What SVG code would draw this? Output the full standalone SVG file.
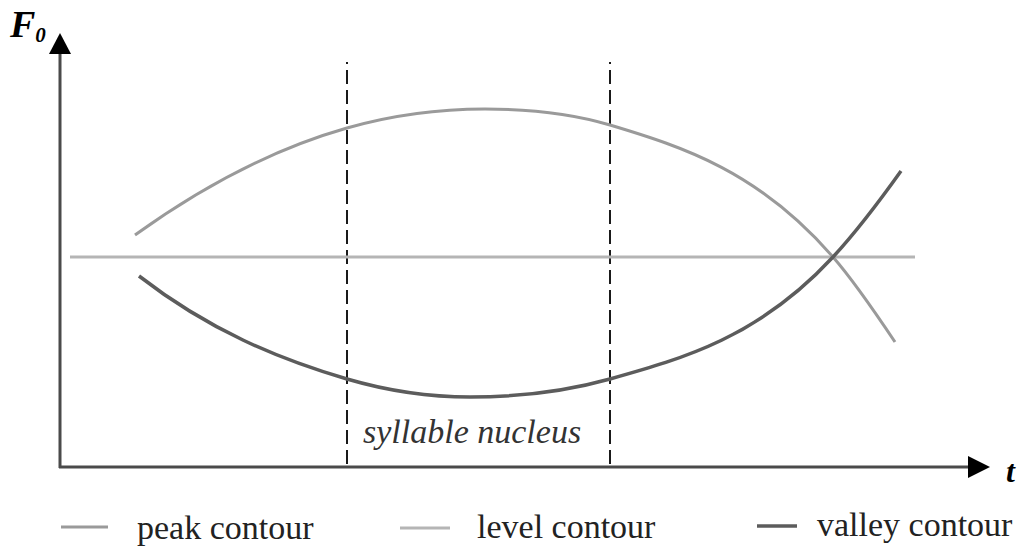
<svg xmlns="http://www.w3.org/2000/svg" width="1022" height="549" viewBox="0 0 1022 549">
<style>
.axis{stroke:#4a4a4a;stroke-width:3;fill:none}
.head{fill:#000}
.dash{stroke:#1a1a1a;stroke-width:2;fill:none;stroke-dasharray:14 6}
.peak{stroke:#9a9a9a;stroke-width:3;fill:none}
.level{stroke:#b5b5b5;stroke-width:3;fill:none}
.valley{stroke:#5c5c5c;stroke-width:3.5;fill:none}
.serif{font-family:'Liberation Serif','Times New Roman','DejaVu Serif',serif}
.leg{font-size:34px;fill:#222}
.lab{font-style:italic;font-weight:bold;fill:#000}
</style>
<rect width="1022" height="549" fill="#fff"/>
<g id="axes">
<line class="axis" x1="60" y1="468" x2="60" y2="52"/>
<line class="axis" x1="59" y1="467" x2="970" y2="467"/>
<polygon class="head" points="60,33 71,54 49,54"/>
<polygon class="head" points="990,467 968,456 968,478"/>
<text class="serif lab" x="10" y="37" font-size="38">F<tspan font-size="21" dy="5">0</tspan></text>
<text class="serif lab" x="1006" y="482" font-size="32">t</text>
</g>
<g id="nucleus">
<line class="dash" x1="347" y1="62" x2="347" y2="467" stroke-dashoffset="12"/>
<line class="dash" x1="610" y1="62" x2="610" y2="467" stroke-dashoffset="12"/>
<text class="serif" x="363" y="443" font-style="italic" font-size="34" fill="#333">syllable nucleus</text>
</g>
<g id="contours">
<line class="level" x1="70" y1="257" x2="915" y2="257"/>
<path class="peak" d="M135,235 C205.7,184.1 276.3,148.1 347,128 C393,114.9 439,109 485,109 C526.7,109 568.3,112.5 610,125 C684.3,147.3 758.7,171.6 833,257 C853.7,280.8 874.3,311 895,342"/>
<path class="valley" d="M139,276 C209,330.2 278,358.8 347,379 C388,391 429,397 470,397 C516.7,397 563.3,392.1 610,379 C684.3,358.2 758.7,337.2 833,257 C855.7,232.5 878.3,202.8 901,171"/>
</g>
<g id="legend">
<line class="peak" x1="61" y1="527" x2="108" y2="527"/>
<text class="serif leg" x="137" y="539">peak contour</text>
<line class="level" x1="400" y1="528" x2="450" y2="528"/>
<text class="serif leg" x="477" y="538">level contour</text>
<line class="valley" x1="757" y1="526" x2="797" y2="526"/>
<text class="serif leg" x="817" y="536">valley contour</text>
</g>
</svg>
